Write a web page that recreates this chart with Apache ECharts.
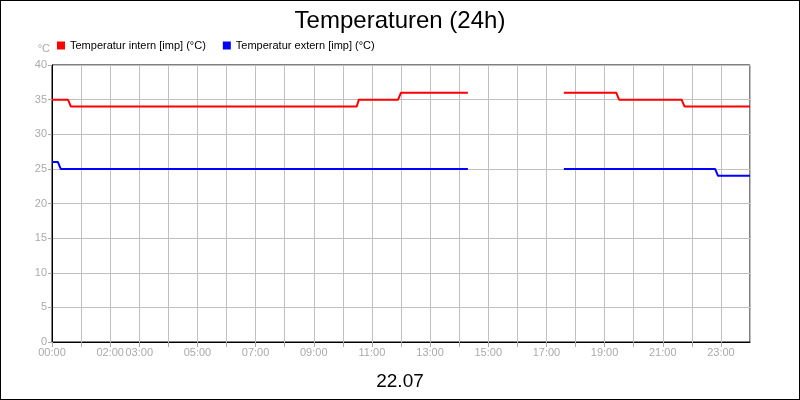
<!DOCTYPE html>
<html><head><meta charset="utf-8">
<script src="https://cdn.jsdelivr.net/npm/echarts@6/dist/echarts.min.js"></script>
<style>
html,body{margin:0;padding:0;}
#chart{width:798px;height:398px;border:1px solid #000;background:#fff;}
</style></head>
<body><div id="chart"></div>
<script>
// hours of day, null marks the data gap
const internTimes = [0, 0.55, 0.65, 10.48, 10.55, 11.9, 12.0, 14.3, 14.31, 17.6, 19.4, 19.5, 21.65, 21.75, 24];
const internValues = [35, 35, 34, 34, 35, 35, 36, 36, null, 36, 36, 35, 35, 34, 34];
const externTimes = [0, 0.2, 0.3, 14.3, 14.31, 17.6, 22.8, 22.9, 24];
const externValues = [26, 26, 25, 25, null, 25, 25, 24, 24];
const hourLabels = { 0: "00:00", 2: "02:00", 3: "03:00", 5: "05:00", 7: "07:00", 9: "09:00", 11: "11:00",
  13: "13:00", 15: "15:00", 17: "17:00", 19: "19:00", 21: "21:00", 23: "23:00" };
const dayLabel = "22.07";

const pairs = (t, v) => t.map((x, i) => [x, v[i]]);
const font = "Liberation Sans, Arial, sans-serif";
const chart = echarts.init(document.getElementById("chart"));
chart.setOption({
  animation: false,
  title: [
    { text: "Temperaturen (24h)", left: "center", top: 3,
      textStyle: { fontFamily: font, fontSize: 24, fontWeight: "normal", color: "#000" } },
    { text: dayLabel, left: "center", top: 366,
      textStyle: { fontFamily: font, fontSize: 19, fontWeight: "normal", color: "#000" } }
  ],
  legend: {
    left: 51, top: 34, itemWidth: 8, itemHeight: 8, itemGap: 17, icon: "rect",
    textStyle: { fontFamily: font, fontSize: 11, color: "#000" },
    data: ["Temperatur intern [imp] (°C)", "Temperatur extern [imp] (°C)"]
  },
  grid: { left: 51, right: 49, top: 64, bottom: 57, show: true, borderColor: "#000", borderWidth: 1 },
  xAxis: {
    type: "value", min: 0, max: 24, interval: 1,
    axisLine: { lineStyle: { color: "#000" } },
    axisTick: { show: true, length: 5, lineStyle: { color: "#aaa" } },
    splitLine: { show: true, lineStyle: { color: "#c0c0c0" } },
    axisLabel: { color: "#aaa", fontFamily: font, fontSize: 11, margin: 5,
      showMaxLabel: false, formatter: v => hourLabels[v] || "" }
  },
  yAxis: {
    type: "value", min: 0, max: 40, interval: 5, name: "°C",
    nameGap: 11, nameTextStyle: { color: "#aaa", fontFamily: font, fontSize: 11, align: "right", padding: [0, 2, 0, 0] },
    axisLine: { show: true, lineStyle: { color: "#000" } },
    axisTick: { show: true, length: 4, lineStyle: { color: "#aaa" } },
    splitLine: { show: true, lineStyle: { color: "#c0c0c0" } },
    axisLabel: { color: "#aaa", fontFamily: font, fontSize: 11, margin: 5 }
  },
  series: [
    { name: "Temperatur intern [imp] (°C)", type: "line", showSymbol: false, connectNulls: false,
      color: "#ff0000", lineStyle: { width: 2 }, data: pairs(internTimes, internValues) },
    { name: "Temperatur extern [imp] (°C)", type: "line", showSymbol: false, connectNulls: false,
      color: "#0000ff", lineStyle: { width: 2 }, data: pairs(externTimes, externValues) }
  ]
});
</script></body></html>
